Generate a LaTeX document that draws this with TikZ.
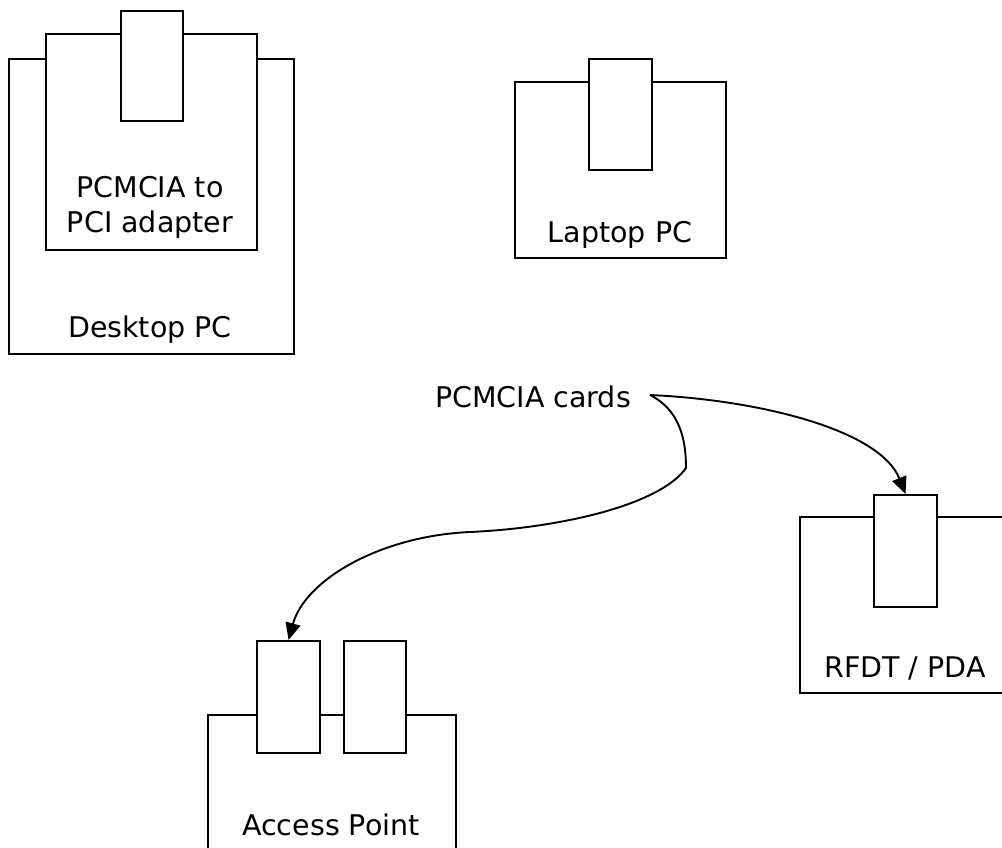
\documentclass[tikz,border=0pt]{standalone}
\usepackage{fontspec}
\setmainfont{DejaVu Sans}
\usetikzlibrary{arrows.meta}

\begin{document}
\begin{tikzpicture}[x=1pt,y=-1pt,
  unit/.style={draw=black, line width=2.1pt, fill=white, inner sep=0pt,
    anchor=north west, minimum width=#1},
  card/.style={draw=black, line width=2.1pt, fill=white, inner sep=0pt,
    anchor=north west, minimum width=63pt, minimum height=111pt},
  caption/.style={anchor=base, inner sep=0pt,
    font=\fontsize{28.5}{36}\selectfont},
  link/.style={draw=black, line width=1.9pt,
    -{Triangle[length=17pt,width=15pt]}}]

\useasboundingbox (0,0) rectangle (1002,848);
\clip (0,0) rectangle (1002,848);

% Desktop PC with its PCMCIA to PCI adapter
\node[unit=285pt, minimum height=295pt] (desktop) at (8,58) {};
\node[unit=211pt, minimum height=216pt] (adapter) at (45,33) {};
\node[card, minimum width=62pt, minimum height=110pt] (dcard) at (120,10) {};
\node[caption] (adaptertxt1) at (150,197) {PCMCIA to};
\node[caption] (adaptertxt2) at (150,233) {PCI adapter};
\node[caption] (desktoptxt) at (150,337) {Desktop PC};

% Laptop PC
\node[unit=211pt, minimum height=176pt] (laptop) at (514,81) {};
\node[card] (lcard) at (588,58) {};
\node[caption] (laptoptxt) at (620,242) {Laptop PC};

% RFDT / PDA
\node[unit=260pt, minimum height=176pt] (rfdt) at (799,516) {};
\node[card, minimum height=112pt] (rcard) at (873,494) {};
\node[caption] (rfdttxt) at (905,677) {RFDT / PDA};

% Access Point with two card slots
\node[unit=248pt, minimum height=170pt] (ap) at (207,714) {};
\node[card, minimum height=112pt] (apcard1) at (256,640) {};
\node[card, minimum width=62pt, minimum height=112pt] (apcard2) at (343,640) {};
\node[caption] (aptxt) at (331,835) {Access Point};

% PCMCIA cards label and its connectors
\node[caption] (cards) at (533,407) {PCMCIA cards};
\coordinate (src) at (650,395);

\draw[link] (src) .. controls (760,400) and (880,430) .. (rcard.north);
\draw[link] (src) .. controls (680,410) and (686,440) .. (686,468)
  .. controls (660,505) and (560,528) .. (470,532)
  .. controls (380,536) and (305,580) .. (apcard1.north);

\end{tikzpicture}
\end{document}
